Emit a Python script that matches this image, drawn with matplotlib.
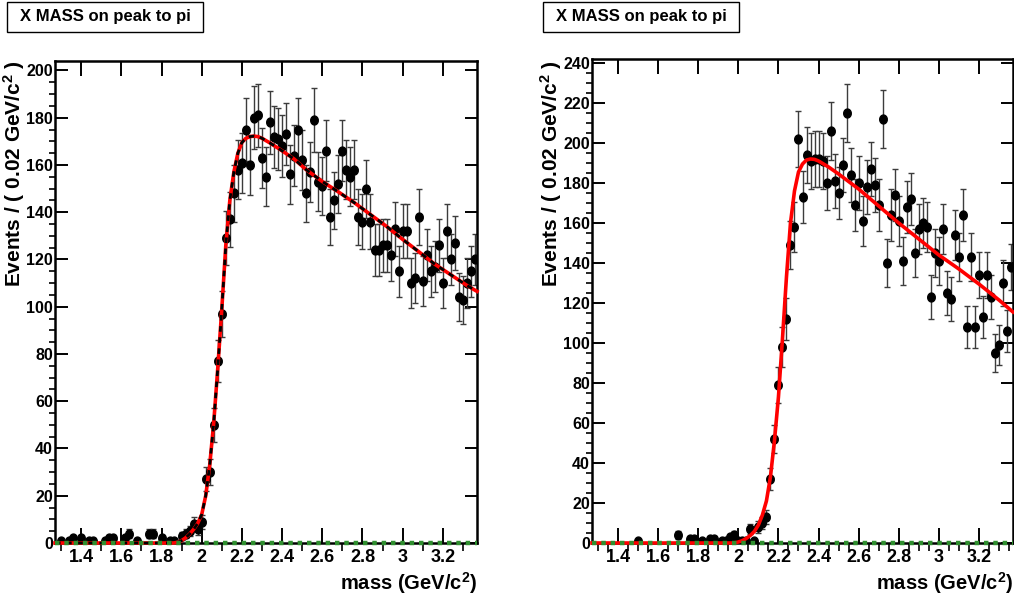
import numpy as np
import matplotlib
matplotlib.use('Agg')
import matplotlib.pyplot as plt
from matplotlib.patches import Rectangle
from matplotlib.ticker import MultipleLocator, FormatStrFormatter

plt.rcParams['font.family'] = ['Liberation Sans', 'DejaVu Sans']
plt.rcParams['font.weight'] = 'bold'
plt.rcParams['mathtext.default'] = 'regular'

# ---- left panel: binned data (0.02 GeV bins, empty bins left out) ----
left_mass = [1.30, 1.34, 1.36, 1.40, 1.44, 1.46, 1.52, 1.54, 1.56, 1.62, 1.64, 1.68,
             1.74, 1.76, 1.80, 1.84, 1.86, 1.90, 1.92, 1.94, 1.96, 1.98, 2.00, 2.02,
             2.04, 2.06, 2.08, 2.10, 2.12, 2.14, 2.16, 2.18, 2.20, 2.22, 2.24, 2.26,
             2.28, 2.30, 2.32, 2.34, 2.36, 2.38, 2.40, 2.42, 2.44, 2.46, 2.48, 2.50,
             2.52, 2.54, 2.56, 2.58, 2.60, 2.62, 2.64, 2.66, 2.68, 2.70, 2.72, 2.74,
             2.76, 2.78, 2.80, 2.82, 2.84, 2.86, 2.88, 2.90, 2.92, 2.94, 2.96, 2.98,
             3.00, 3.02, 3.04, 3.06, 3.08, 3.10, 3.12, 3.14, 3.16, 3.18, 3.20, 3.22,
             3.24, 3.26, 3.28, 3.30, 3.32, 3.34, 3.36]
left_counts = [1, 1, 2, 2, 1, 1, 1, 2, 2, 2, 4, 1,
               4, 4, 2, 1, 1, 3, 4, 5, 8, 6, 9, 27,
               30, 50, 77, 97, 129, 137, 148, 158, 161, 175, 160, 180,
               181, 163, 155, 178, 172, 171, 168, 173, 156, 164, 175, 162,
               148, 157, 179, 153, 151, 166, 138, 145, 152, 166, 158, 155,
               158, 138, 136, 150, 136, 124, 124, 126, 126, 122, 133, 115,
               132, 132, 110, 112, 138, 111, 122, 115, 117, 126, 110, 132,
               120, 127, 104, 103, 110, 115, 120]

left_fit_mass = [1.27, 1.86, 1.88, 1.90, 1.92, 1.94, 1.96, 1.98, 2.00, 2.02, 2.04,
                 2.06, 2.08, 2.10, 2.12, 2.14, 2.16, 2.18, 2.20, 2.22, 2.24, 2.26,
                 2.28, 2.30, 2.34, 2.40, 2.46, 2.52, 2.60, 2.68, 2.76, 2.84, 2.92,
                 3.00, 3.08, 3.16, 3.24, 3.32, 3.37]
left_fit_val = [0, 0, 0.3, 1.0, 2.2, 3.8, 5.8, 8.3, 12, 20, 33,
                51, 74, 99, 126, 145, 157, 165, 169.5, 171.3, 172, 172.2,
                172, 171.3, 169.3, 166, 162.5, 158, 153, 148.6, 144, 139, 134,
                128.5, 123.3, 118, 113.5, 109, 106.5]

# ---- right panel ----
right_mass = [1.50, 1.70, 1.76, 1.78, 1.82, 1.86, 1.88, 1.92, 1.94, 1.96, 1.98, 2.00,
              2.02, 2.04, 2.06, 2.08, 2.10, 2.12, 2.14, 2.16, 2.18, 2.20, 2.22, 2.24,
              2.26, 2.28, 2.30, 2.32, 2.34, 2.36, 2.38, 2.40, 2.42, 2.44, 2.46, 2.48,
              2.50, 2.52, 2.54, 2.56, 2.58, 2.60, 2.62, 2.64, 2.66, 2.68, 2.70, 2.72,
              2.74, 2.76, 2.78, 2.80, 2.82, 2.84, 2.86, 2.88, 2.90, 2.92, 2.94, 2.96,
              2.98, 3.00, 3.02, 3.04, 3.06, 3.08, 3.10, 3.12, 3.14, 3.16, 3.18, 3.20,
              3.22, 3.24, 3.26, 3.28, 3.30, 3.32, 3.34, 3.36]
right_counts = [1, 4, 2, 2, 1, 2, 2, 1, 1, 3, 4, 1,
                1, 1, 7, 1, 8, 10, 13, 32, 52, 79, 98, 112,
                149, 158, 202, 173, 194, 191, 192, 192, 191, 180, 206, 181,
                175, 189, 215, 184, 169, 180, 161, 178, 187, 179, 169, 212,
                140, 164, 174, 161, 141, 168, 172, 145, 157, 160, 158, 123,
                145, 141, 157, 125, 122, 154, 143, 164, 108, 143, 108, 134,
                113, 134, 123, 95, 99, 130, 106, 138]

right_fit_mass = [1.27, 1.98, 2.00, 2.02, 2.04, 2.06, 2.08, 2.10, 2.12, 2.14, 2.16,
                  2.18, 2.20, 2.22, 2.24, 2.26, 2.28, 2.30, 2.32, 2.34, 2.36, 2.38,
                  2.40, 2.45, 2.50, 2.60, 2.70, 2.80, 2.90, 3.00, 3.10, 3.20, 3.30,
                  3.37]
right_fit_val = [0, 0, 0.5, 1.2, 2.3, 3.8, 5.8, 9, 14, 21, 33,
                 51, 73, 102, 133, 160, 176, 185.5, 189.5, 191.5, 192, 191.8,
                 191, 188, 184.5, 177, 168.5, 160, 152, 144, 137, 129.5, 121.5,
                 115.5]

title = 'X MASS on peak to pi'
ylabel = 'Events / ( 0.02 GeV/c$^{2}$ )'
xlabel = 'mass (GeV/c$^{2}$)'

W, H = 1014, 597
fig = plt.figure(figsize=(W / 100, H / 100), dpi=100)

# ellipse marker, a bit taller than wide (like the ROOT markers)
t = np.linspace(0, 2 * np.pi, 40)
ell = list(zip(0.85 * np.cos(t), np.sin(t)))


def panel(px0, px1, ptop, ymax, mass, counts, fit_m, fit_v, dashed, xminor):
    ax = fig.add_axes([px0 / W, (H - 543) / H, (px1 - px0) / W, (543 - ptop) / H])
    m = np.array(mass)
    c = np.array(counts, dtype=float)
    ax.errorbar(m, c, yerr=np.sqrt(c), fmt='none', ecolor='#3c3c3c',
                elinewidth=1.0, capsize=2.2, capthick=1.0, zorder=2)
    ax.plot(m, c, ls='none', marker=ell, ms=6.4, color='black', zorder=3)
    ax.plot(fit_m, fit_v, color='red', lw=2.6, zorder=4, clip_on=False)
    if dashed:
        ax.plot(fit_m, fit_v, color='black', lw=2.0, dashes=(2, 2), zorder=5, clip_on=False)
    ax.axhline(0, color='#2f8f2f', lw=3.2, dashes=(1.0, 1.1), zorder=6, clip_on=False)
    ax.set_xlim(1.27, 3.37)
    ax.set_ylim(0, ymax)
    ax.xaxis.set_major_locator(MultipleLocator(0.2))
    ax.xaxis.set_minor_locator(MultipleLocator(xminor))
    ax.yaxis.set_major_locator(MultipleLocator(20))
    ax.yaxis.set_minor_locator(MultipleLocator(5))
    ax.xaxis.set_major_formatter(FormatStrFormatter('%g'))
    ax.tick_params(direction='in', top=True, right=True, width=1.4, colors='black')
    ax.tick_params(axis='x', which='major', length=10.5, pad=4, labelsize=13)
    ax.tick_params(axis='x', which='minor', length=5.5, width=1.2)
    ax.tick_params(axis='y', which='major', length=9, pad=1.5, labelsize=11.5)
    ax.tick_params(axis='y', which='minor', length=4.5, width=1.2)
    for lab in ax.get_xticklabels() + ax.get_yticklabels():
        lab.set_fontweight('bold')
    for s in ax.spines.values():
        s.set_linewidth(1.8)
    return ax


panel(55, 477, 61, 204, left_mass, left_counts, left_fit_mass, left_fit_val, True, 0.1)
panel(592, 1013, 59, 242, right_mass, right_counts, right_fit_mass, right_fit_val, False, 0.05)

for bx, lx, xr in [(7, 27, 477), (543, 564, 1013)]:
    fig.patches.append(Rectangle((bx / W, 1 - 32 / H), 196 / W, 30 / H,
                                 transform=fig.transFigure, facecolor='white',
                                 edgecolor='black', lw=1.0))
    fig.text((bx + 98) / W, 1 - 17 / H, title, ha='center', va='center',
             fontsize=12, fontweight='bold')
    fig.text(lx / W, 1 - 60 / H, ylabel, rotation=90, ha='right', va='top',
             fontsize=15, fontweight='bold')
    fig.text(xr / W, 1 - 583 / H, xlabel, ha='right', va='center',
             fontsize=14.5, fontweight='bold')

fig.savefig('out.png', dpi=100)
